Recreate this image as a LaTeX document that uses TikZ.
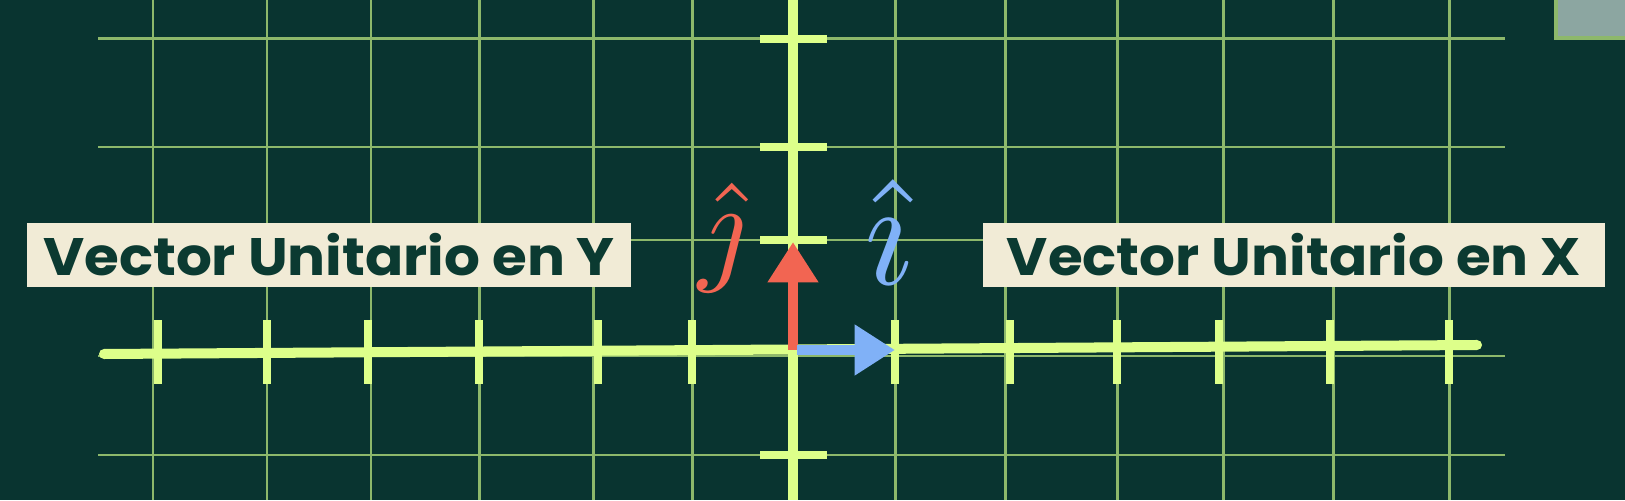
\documentclass[tikz,border=0pt]{standalone}
\usepackage{fontspec}
\setmainfont{Poppins}
\newfontfamily\tagfont[FakeStretch=1.07]{Poppins}
\usetikzlibrary{arrows.meta}
\definecolor{bgcol}{HTML}{093430}
\definecolor{gridcol}{HTML}{8DB86B}
\definecolor{axiscol}{HTML}{DDFF8A}
\definecolor{redvec}{HTML}{F26552}
\definecolor{bluevec}{HTML}{80B1F7}
\definecolor{cream}{HTML}{F1EBD6}
\definecolor{inkcol}{HTML}{0B3A31}
\definecolor{cornerbox}{HTML}{8CA6A1}
\tikzset{
  gridline/.style={gridcol, line width=1.7pt},
  axisline/.style={axiscol, line width=5.7pt, line cap=round},
  tickline/.style={axiscol, line width=4.5pt},
  unitvec/.style={line width=5.7pt, -{Triangle[width=27.5pt,length=23pt]}},
  tag/.style={fill=cream, text=inkcol, font=\tagfont\bfseries\fontsize{30}{30}\selectfont,
    minimum height=36.3pt, inner sep=0pt},
  hatlabel/.style={inner sep=0pt}
}
\begin{document}
\begin{tikzpicture}[x=0.02cm,y=0.02cm]
\useasboundingbox (0,0) rectangle (1625,500);
\clip (0,0) rectangle (1625,500);
\fill[bgcol] (0,0) rectangle (1625,500);
% grid
\foreach \gx in {153,267,371,479,593,692,895,1005,1117,1223,1333,1449}
  \draw[gridline] (\gx,0) -- (\gx,500);
\foreach \gy in {461,353,260,144,45}
  \draw[gridline] (98,\gy) -- (1505,\gy);
\draw[gridcol, line width=2.3pt, fill=cornerbox] (1556,462) rectangle (1640,510);
% axes
\draw[axisline, line cap=butt] (793,0) -- (793,500);
\draw[axisline] (104,146) -- (1477,155);
\foreach \tx in {158,267,368,479,598,692,895,1010,1117,1219,1330,1449}
  \draw[tickline] (\tx,116) -- (\tx,180);
\foreach \ty in {461,353,260,45}
  \draw[tickline] (760,\ty) -- (827,\ty);
% unit vectors
\coordinate (O) at (793,152);
\coordinate (jtip) at (793,258);
\coordinate (itip) at (895,150);
\draw[unitvec, redvec] (793,150) -- (jtip);
\draw[unitvec, bluevec] (797,150) -- (itip);
\node[hatlabel, redvec, scale=7] (jhat) at (722,262) {$\hat{\jmath}$};
\node[hatlabel, bluevec, scale=8.6] (ihat) at (889,268) {$\hat{\imath}$};
% labels
\node[tag, minimum width=604*0.02cm] (labelY) at (329,245) {Vector Unitario en Y};
\node[tag, minimum width=622*0.02cm] (labelX) at (1294,245) {Vector Unitario en X};
\end{tikzpicture}
\end{document}
